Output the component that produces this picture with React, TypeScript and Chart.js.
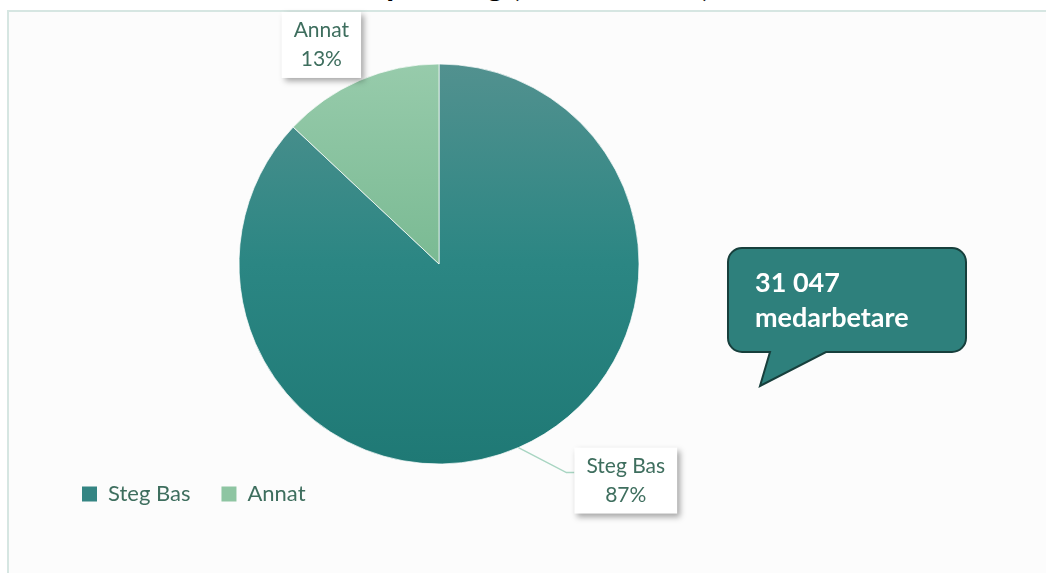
import React, { useEffect, useRef } from "react";
import { Chart, registerables } from "chart.js";

Chart.register(...registerables);

// ---- data ----
const categories: string[] = ["Steg Bas", "Annat"];
const shares: number[] = [87, 13];
const calloutLines: string[] = ["31 047", "medarbetare"];
const titleText = "Spridning (medarbetare)";

// ---- styles ----
const FONT = "Lato, 'Open Sans', sans-serif";
const TEXT = "#3e6e5e";
const PIE_RADIUS = 200;
const legendColors = ["#348583", "#8ec5a2"];
const gradientStops: [number, string][][] = [
  [
    [0, "#52918f"],
    [0.5, "#2b8683"],
    [1, "#1f7975"],
  ],
  [
    [0, "#97cbab"],
    [0.5, "#7aba93"],
    [1, "#63ab7f"],
  ],
];
const solidColors = ["#2b8683", "#88c29e"];

const labelPlugin = {
  id: "boxLabels",
  afterDatasetsDraw(chart: any, _args: any, opts: any) {
    const ctx: CanvasRenderingContext2D = chart.ctx;
    const meta = chart.getDatasetMeta(0);
    meta.data.forEach((arc: any, i: number) => {
      const p = arc.getProps(["x", "y", "startAngle", "endAngle", "outerRadius"], true);
      const mid = (p.startAngle + p.endAngle) / 2;
      const ex = p.x + Math.cos(mid) * p.outerRadius;
      const ey = p.y + Math.sin(mid) * p.outerRadius;
      const place = opts.placements[i];
      const lines = [categories[i], shares[i] + "%"];
      ctx.save();
      ctx.font = `${opts.fontSize}px ${FONT}`;
      const tw = Math.max(...lines.map((l) => ctx.measureText(l).width));
      const w = tw + opts.padX * 2;
      const h = lines.length * opts.lineHeight + opts.padY * 2;
      let bx: number, by: number;
      if (place.anchor === "rightBottom") {
        bx = ex + place.dx - w;
        by = ey + place.dy - h;
      } else {
        bx = ex + place.dx;
        by = ey + place.dy;
      }
      if (place.leader) {
        const ly = by + place.leaderY;
        ctx.strokeStyle = opts.leaderColor;
        ctx.lineWidth = 1.5;
        ctx.beginPath();
        ctx.moveTo(ex, ey);
        ctx.lineTo(bx - place.elbow, ly);
        ctx.lineTo(bx, ly);
        ctx.stroke();
      }
      ctx.shadowColor = "rgba(0,0,0,0.35)";
      ctx.shadowBlur = 6;
      ctx.shadowOffsetX = 3;
      ctx.shadowOffsetY = 3;
      ctx.fillStyle = "#ffffff";
      ctx.fillRect(bx, by, w, h);
      ctx.shadowColor = "transparent";
      ctx.fillStyle = TEXT;
      ctx.textAlign = "center";
      ctx.textBaseline = "middle";
      lines.forEach((l, k) =>
        ctx.fillText(l, bx + w / 2, by + opts.padY + opts.lineHeight * (k + 0.5))
      );
      ctx.restore();
    });
  },
};

export default function App() {
  const ref = useRef<HTMLCanvasElement>(null);

  useEffect(() => {
    const canvas = ref.current;
    if (!canvas) return;
    const chart = new Chart(canvas, {
      type: "pie",
      data: {
        labels: categories,
        datasets: [
          {
            data: shares,
            radius: PIE_RADIUS,
            backgroundColor: (c: any) => {
              const ch = c.chart;
              const area = ch.chartArea;
              const i = c.dataIndex ?? 0;
              if (!area) return solidColors[i];
              const cy = (area.top + area.bottom) / 2;
              const g = ch.ctx.createLinearGradient(0, cy - PIE_RADIUS, 0, cy + PIE_RADIUS);
              gradientStops[i].forEach(([o, col]) => g.addColorStop(o, col));
              return g;
            },
            borderColor: "rgba(255,255,255,0.7)",
            borderWidth: 1,
          } as any,
        ],
      },
      options: {
        animation: false,
        responsive: true,
        maintainAspectRatio: false,
        layout: { padding: { left: 51, right: 219, top: 76, bottom: 58 } },
        plugins: {
          tooltip: { enabled: false },
          legend: {
            position: "bottom",
            align: "start",
            labels: {
              boxWidth: 15,
              boxHeight: 15,
              padding: 31,
              color: TEXT,
              font: { family: FONT, size: 22 },
              generateLabels: () =>
                categories.map((t, i) => ({
                  text: t,
                  fillStyle: legendColors[i],
                  strokeStyle: legendColors[i],
                  lineWidth: 0,
                  hidden: false,
                  index: i,
                  fontColor: TEXT,
                })),
            },
          },
          boxLabels: {
            fontSize: 21,
            padX: 12,
            padY: 4,
            lineHeight: 29,
            leaderColor: "#a8d5c2",
            placements: [
              { anchor: "leftTop", dx: 56, dy: 0, leader: true, leaderY: 25, elbow: 8 },
              { anchor: "rightBottom", dx: 1.5, dy: -2.5, leader: false },
            ],
          },
        } as any,
      },
      plugins: [labelPlugin],
    });
    return () => chart.destroy();
  }, []);

  return (
    <div
      style={{
        position: "fixed",
        left: 0,
        top: 0,
        width: 1046,
        height: 573,
        overflow: "hidden",
        background: "#ffffff",
        fontFamily: FONT,
      }}
    >
      <div
        style={{
          position: "absolute",
          left: 7,
          top: 10,
          width: 1046,
          height: 573,
          borderTop: "2px solid #d6e6e2",
          borderLeft: "2px solid #d6e6e2",
          background: "#fcfcfc",
        }}
      />
      <div
        style={{
          position: "absolute",
          left: 369,
          top: -36,
          height: 40,
          lineHeight: "40px",
          fontSize: 32,
          fontWeight: 700,
          color: "#000",
          whiteSpace: "nowrap",
        }}
      >
        {titleText}
      </div>
      <div style={{ position: "absolute", left: 0, top: 0, width: 1046, height: 573 }}>
        <canvas ref={ref} />
      </div>
      <svg
        width={1046}
        height={573}
        style={{ position: "absolute", left: 0, top: 0, pointerEvents: "none" }}
      >
        <path
          d="M 742 248 H 952 A 14 14 0 0 1 966 262 V 338 A 14 14 0 0 1 952 352 H 826 L 760 386 L 770 352 H 742 A 14 14 0 0 1 728 338 V 262 A 14 14 0 0 1 742 248 Z"
          fill="#2e807c"
          stroke="#173f3c"
          strokeWidth={2}
        />
      </svg>
      <div
        style={{
          position: "absolute",
          left: 755,
          top: 264,
          fontSize: 27,
          lineHeight: "35px",
          fontWeight: 700,
          color: "#ffffff",
          whiteSpace: "nowrap",
        }}
      >
        {calloutLines.map((l, i) => (
          <div key={i}>{l}</div>
        ))}
      </div>
    </div>
  );
}
